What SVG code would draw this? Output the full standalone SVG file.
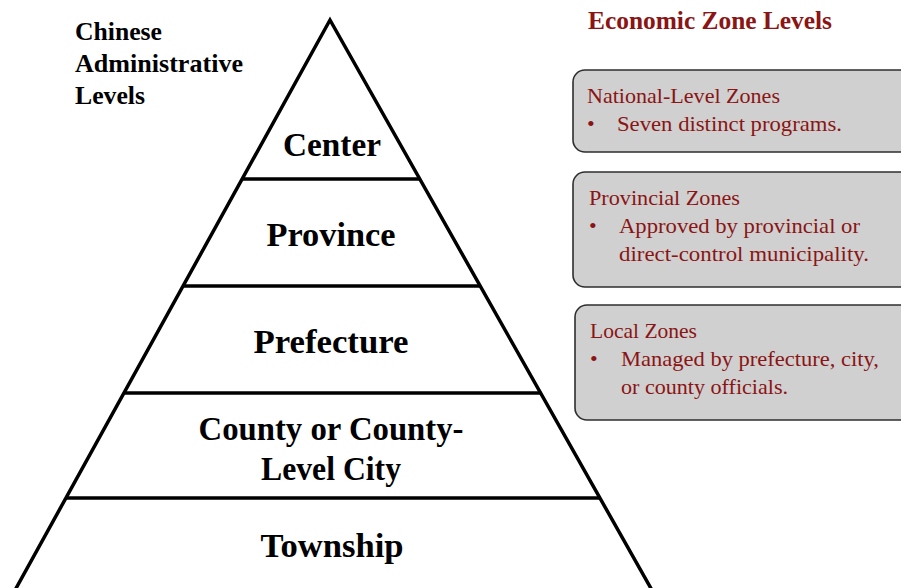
<svg xmlns="http://www.w3.org/2000/svg" width="901" height="588" viewBox="0 0 901 588">
  <style>
    .lvl { font-family: "Liberation Serif", "DejaVu Serif", serif; font-weight: bold; font-size: 34px; fill: #000; text-anchor: middle; }
    .hdr { font-family: "Liberation Serif", "DejaVu Serif", serif; font-weight: bold; font-size: 25px; fill: #000; }
    .zhdr { font-family: "Liberation Serif", "DejaVu Serif", serif; font-weight: bold; font-size: 25px; fill: #8B1414; }
    .ztxt { font-family: "Liberation Serif", "DejaVu Serif", serif; font-size: 22px; fill: #8B1414; }
    .edge { stroke: #000; stroke-width: 3.5; fill: none; stroke-linejoin: miter; }
    .box { fill: #D0D0D0; stroke: #2E2E2E; stroke-width: 1.6; }
  </style>

  <!-- Pyramid outline and tier dividers -->
  <g id="pyramid">
    <polyline class="edge" points="14,592 330,20 653,592"/>
    <line class="edge" x1="242" y1="179" x2="420" y2="179"/>
    <line class="edge" x1="184" y1="286" x2="481" y2="286"/>
    <line class="edge" x1="125" y1="393" x2="541" y2="393"/>
    <line class="edge" x1="66" y1="498" x2="600" y2="498"/>
  </g>

  <g id="title-admin">
    <text class="hdr" x="75" y="40" textLength="87" lengthAdjust="spacingAndGlyphs">Chinese</text>
    <text class="hdr" x="75" y="72" textLength="168" lengthAdjust="spacingAndGlyphs">Administrative</text>
    <text class="hdr" x="75" y="104" textLength="70" lengthAdjust="spacingAndGlyphs">Levels</text>
  </g>

  <g id="tier-center">
    <text class="lvl" x="332" y="156" textLength="98" lengthAdjust="spacingAndGlyphs">Center</text>
  </g>
  <g id="tier-province">
    <text class="lvl" x="331" y="246" textLength="129" lengthAdjust="spacingAndGlyphs">Province</text>
  </g>
  <g id="tier-prefecture">
    <text class="lvl" x="331" y="353" textLength="155" lengthAdjust="spacingAndGlyphs">Prefecture</text>
  </g>
  <g id="tier-county">
    <text class="lvl" x="331" y="440" textLength="265" lengthAdjust="spacingAndGlyphs">County or County-</text>
    <text class="lvl" x="331" y="480" textLength="140" lengthAdjust="spacingAndGlyphs">Level City</text>
  </g>
  <g id="tier-township">
    <text class="lvl" x="332" y="557" textLength="143" lengthAdjust="spacingAndGlyphs">Township</text>
  </g>

  <g id="title-zones">
    <text class="zhdr" x="588" y="29" textLength="244" lengthAdjust="spacingAndGlyphs">Economic Zone Levels</text>
  </g>

  <g id="zone-national">
    <rect class="box" x="573" y="70" width="340" height="82" rx="12"/>
    <text class="ztxt" x="587" y="103" textLength="193" lengthAdjust="spacingAndGlyphs">National-Level Zones</text>
    <text class="ztxt" x="587" y="131">•</text>
    <text class="ztxt" x="617" y="131" textLength="225" lengthAdjust="spacingAndGlyphs">Seven distinct programs.</text>
  </g>

  <g id="zone-provincial">
    <rect class="box" x="573" y="172" width="340" height="115" rx="12"/>
    <text class="ztxt" x="589" y="205" textLength="151" lengthAdjust="spacingAndGlyphs">Provincial Zones</text>
    <text class="ztxt" x="589" y="233">•</text>
    <text class="ztxt" x="619" y="233" textLength="241" lengthAdjust="spacingAndGlyphs">Approved by provincial or</text>
    <text class="ztxt" x="619" y="261" textLength="250" lengthAdjust="spacingAndGlyphs">direct-control municipality.</text>
  </g>

  <g id="zone-local">
    <rect class="box" x="575" y="305" width="340" height="115" rx="12"/>
    <text class="ztxt" x="590" y="338" textLength="107" lengthAdjust="spacingAndGlyphs">Local Zones</text>
    <text class="ztxt" x="590" y="366">•</text>
    <text class="ztxt" x="621" y="366" textLength="258" lengthAdjust="spacingAndGlyphs">Managed by prefecture, city,</text>
    <text class="ztxt" x="621" y="394" textLength="167" lengthAdjust="spacingAndGlyphs">or county officials.</text>
  </g>
</svg>
